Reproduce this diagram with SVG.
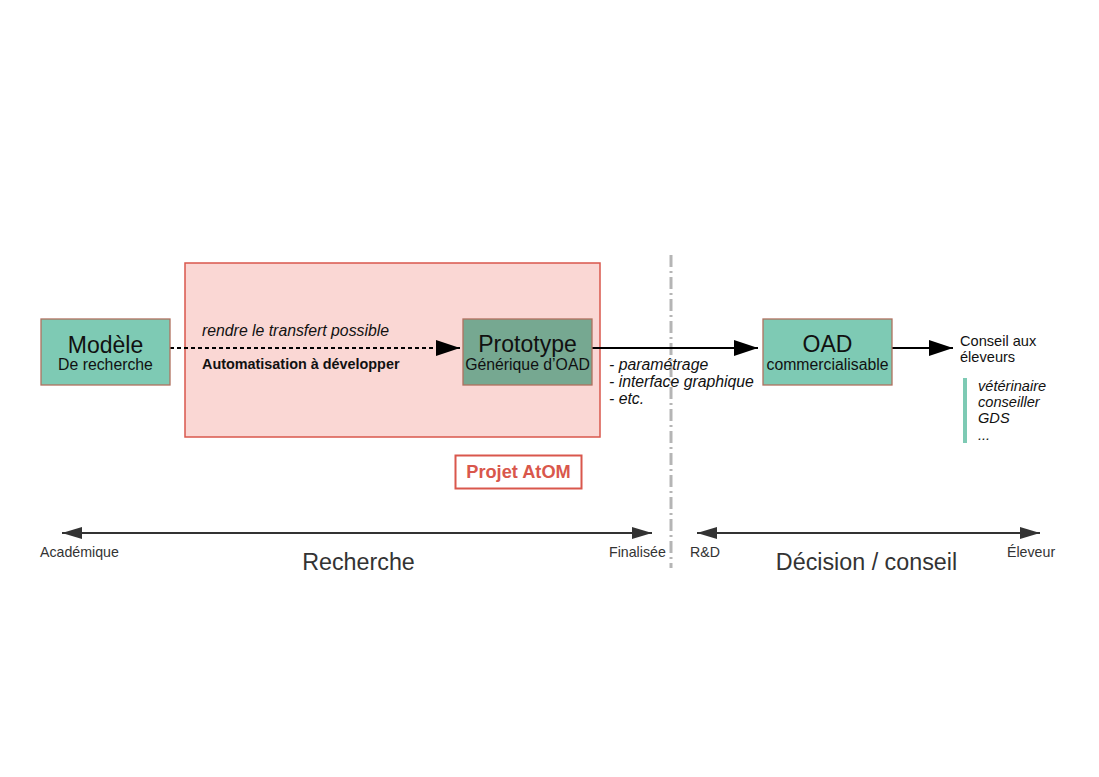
<svg xmlns="http://www.w3.org/2000/svg" width="1099" height="777" viewBox="0 0 1099 777">
<defs>
<style>
text{font-family:"Liberation Sans",Arial,sans-serif;fill:#111}
.big{font-size:23px}
.sm{font-size:15.8px}
.it{font-style:italic}
.box{fill:#7ecab4;stroke:#b0705f;stroke-width:1.3}
.axis{font-size:14.2px;fill:#333}
.ttl{font-size:23.3px;fill:#333}
.cs{font-size:14.6px}
</style>
<marker id="big" viewBox="0 0 24 16" refX="24" refY="8" markerWidth="24" markerHeight="16" markerUnits="userSpaceOnUse" orient="auto"><path d="M0,0 L24,8 L0,16 z" fill="#000"/></marker>
<marker id="sa" viewBox="0 0 20 12" refX="20" refY="6" markerWidth="20" markerHeight="12" markerUnits="userSpaceOnUse" orient="auto-start-reverse"><path d="M0,0 L20,6 L0,12 z" fill="#333"/></marker>
</defs>
<rect width="1099" height="777" fill="#fff"/>
<g id="atom-zone">
<rect x="185" y="263" width="415" height="174" fill="#fad7d4" stroke="#d9574c" stroke-width="1.5"/>
</g>
<g id="divider">
<line x1="671" y1="255" x2="671" y2="568" stroke="#b5b5b5" stroke-width="3" stroke-dasharray="12,4,2,4"/>
</g>
<g id="connectors">
<line x1="170" y1="348" x2="460" y2="348" stroke="#000" stroke-width="2" stroke-dasharray="4,3" marker-end="url(#big)"/>
<line x1="592" y1="348" x2="758" y2="348" stroke="#000" stroke-width="2" marker-end="url(#big)"/>
<line x1="892" y1="348" x2="953" y2="348" stroke="#000" stroke-width="2" marker-end="url(#big)"/>
<line x1="62" y1="533" x2="652" y2="533" stroke="#333" stroke-width="2" marker-start="url(#sa)" marker-end="url(#sa)"/>
<line x1="697" y1="533" x2="1040" y2="533" stroke="#333" stroke-width="2" marker-start="url(#sa)" marker-end="url(#sa)"/>
</g>
<g id="modele">
<rect class="box" x="41" y="319" width="129" height="66"/>
<text class="big" x="105.5" y="353" text-anchor="middle">Modèle</text>
<text class="sm" x="105.5" y="370" text-anchor="middle">De recherche</text>
</g>
<g id="transfert-labels">
<text class="sm it" x="202" y="336">rendre le transfert possible</text>
<text x="202" y="369" font-size="14.4" font-weight="bold">Automatisation à développer</text>
</g>
<g id="prototype">
<rect x="463" y="319" width="129" height="66" fill="#76a891" stroke="#b0705f" stroke-width="1.3"/>
<text class="big" x="527.5" y="352" text-anchor="middle">Prototype</text>
<text class="sm" x="527.5" y="370" text-anchor="middle" fill="#222">Générique d’OAD</text>
</g>
<g id="proto-notes">
<text class="sm it" x="609" y="370">- paramétrage</text>
<text class="sm it" x="609" y="387">- interface graphique</text>
<text class="sm it" x="609" y="404">- etc.</text>
</g>
<g id="oad">
<rect class="box" x="763" y="319" width="129" height="66"/>
<text class="big" x="827.5" y="352" text-anchor="middle">OAD</text>
<text class="sm" x="827.5" y="370" text-anchor="middle">commercialisable</text>
</g>
<g id="conseil">
<text class="cs" x="960" y="346">Conseil aux</text>
<text class="cs" x="960" y="362">éleveurs</text>
<rect x="963" y="378" width="4" height="65" fill="#7ecab4"/>
<text class="cs it" x="978" y="391">vétérinaire</text>
<text class="cs it" x="978" y="407">conseiller</text>
<text class="cs it" x="978" y="423">GDS</text>
<text class="cs it" x="978" y="440">...</text>
</g>
<g id="projet-atom">
<rect x="455.5" y="455.5" width="126" height="33" fill="#fff" stroke="#d9574c" stroke-width="2"/>
<text x="518.5" y="478" text-anchor="middle" font-size="18.2" font-weight="bold" style="fill:#d9574c">Projet AtOM</text>
</g>
<g id="axis-labels">
<text class="axis" x="40" y="557">Académique</text>
<text class="ttl" x="358.5" y="570" text-anchor="middle">Recherche</text>
<text class="axis" x="609" y="557">Finalisée</text>
<text class="axis" x="690" y="557">R&amp;D</text>
<text class="ttl" x="866.5" y="570" text-anchor="middle">Décision / conseil</text>
<text class="axis" x="1007" y="557">Éleveur</text>
</g>
</svg>
